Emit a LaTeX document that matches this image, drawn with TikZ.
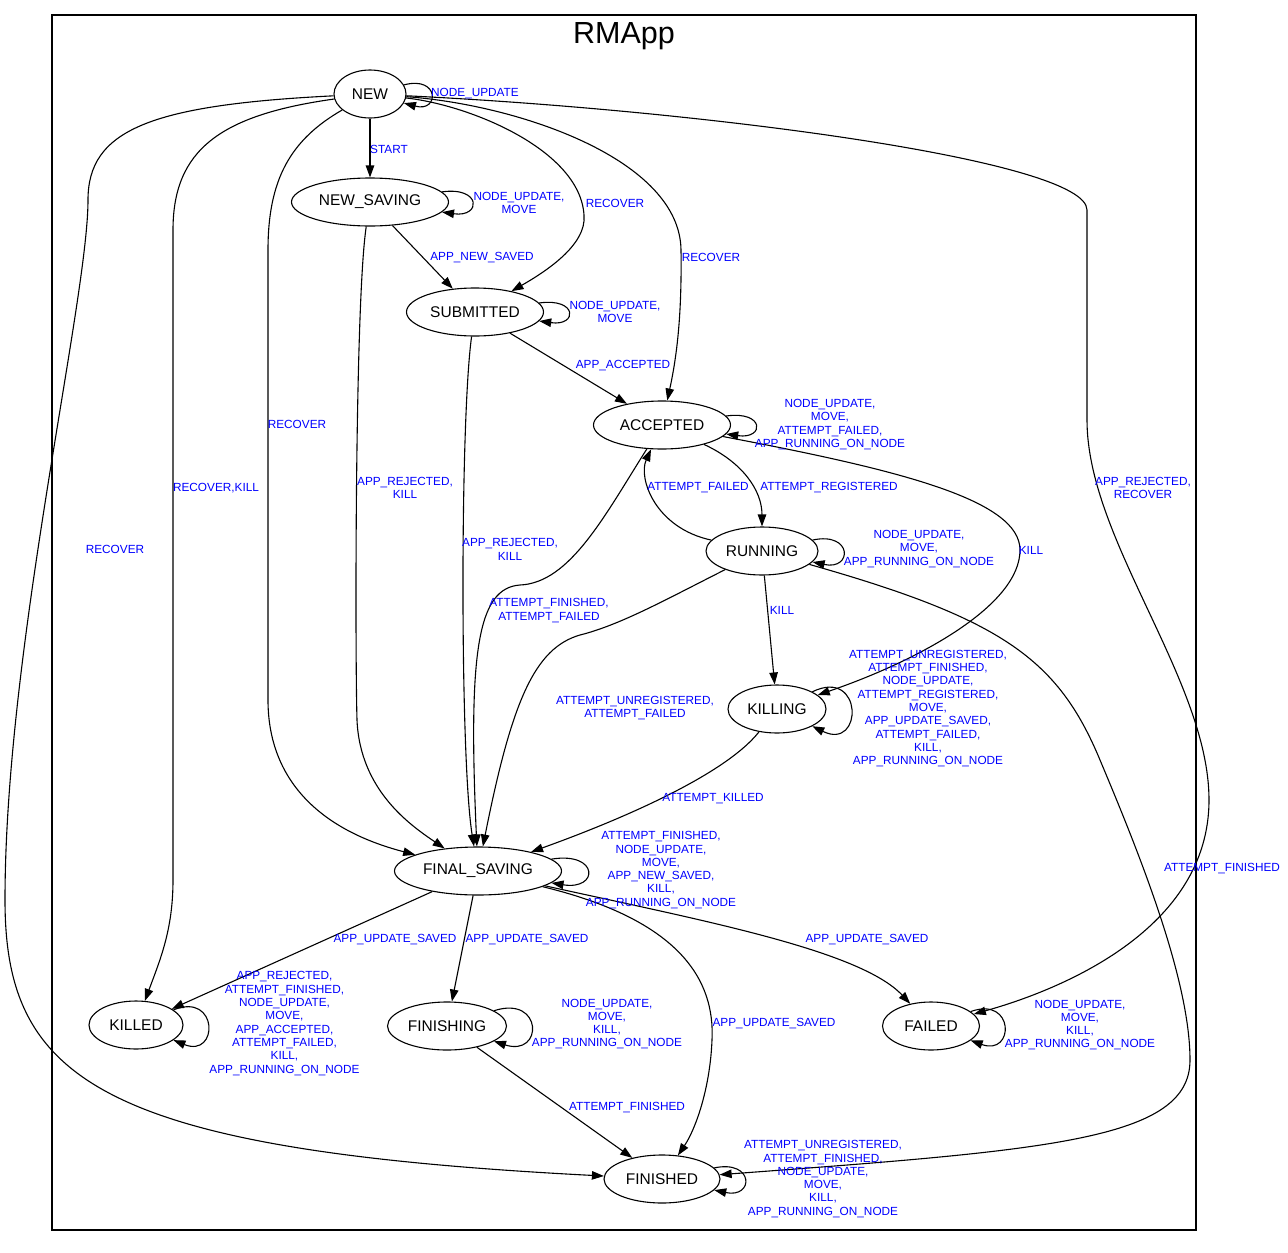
\documentclass[tikz,border=0pt]{standalone}
\usepackage{fontspec}
\setmainfont{Liberation Sans}
\usepackage{tikz}
\usetikzlibrary{arrows.meta,shapes.geometric}

\begin{document}
\begin{tikzpicture}[->,>={Triangle[length=12pt,width=8.5pt]},x=1pt,y=1pt,
	line width=1.1pt,
	main node/.style={ellipse,draw,minimum height=48pt,inner sep=0pt,
		font=\fontsize{15.5}{18}\selectfont},
	trans label/.style={text=blue,align=center,inner sep=0pt,
		font=\fontsize{11.8}{13.3}\selectfont},
	self loop/.style 2 args={out=#1,in=-#1,looseness=0.1,min distance=#2}]

	\useasboundingbox (0,0) rectangle (1288,-1253);
	\draw[-] (52,-15) rectangle (1196,-1230);
	\node (title) at (624,-36) {\fontsize{30.5}{34}\selectfont RMApp};

	\node[main node,minimum width=72pt] (0) at (370,-94) {NEW};
	\node[main node,minimum width=157pt] (1) at (370,-202) {NEW\_SAVING};
	\node[main node,minimum width=137pt] (2) at (475,-312) {SUBMITTED};
	\node[main node,minimum width=137pt] (3) at (662,-425) {ACCEPTED};
	\node[main node,minimum width=112pt] (4) at (762,-551) {RUNNING};
	\node[main node,minimum width=98pt] (5) at (777,-709) {KILLING};
	\node[main node,minimum width=167pt] (6) at (478,-871) {FINAL\_SAVING};
	\node[main node,minimum width=94pt] (7) at (136,-1025) {KILLED};
	\node[main node,minimum width=119pt] (8) at (447,-1026) {FINISHING};
	\node[main node,minimum width=97pt] (9) at (931,-1026) {FAILED};
	\node[main node,minimum width=116pt] (10) at (662,-1179) {FINISHED};

	\path
	(0) edge[self loop={15}{37pt}] (0)
	(0) edge (1)
	(1) edge[self loop={8}{40pt}] (1)
	(1) edge (2)
	(2) edge[self loop={8}{39pt}] (2)
	(2) edge (3)
	(3) edge[self loop={8}{39pt}] (3)
	(4) edge[self loop={12.5}{41pt}] (4)
	(4) edge (5)
	(5) edge[self loop={26}{57pt}] (5)
	(6) edge[self loop={9.5}{48pt}] (6)
	(6) edge (7)
	(6) edge (8)
	(7) edge[self loop={22}{49pt}] (7)
	(8) edge[self loop={18}{52pt}] (8)
	(8) edge (10)
	(9) edge[self loop={20}{47pt}] (9)
	(10) edge[self loop={12}{41pt}] (10);

	\draw (0) .. controls (470,-105) and (580,-150) .. (584,-215)
		.. controls (587,-245) and (545,-272) .. (2);
	\draw (0) .. controls (520,-105) and (680,-160) .. (681,-250)
		.. controls (682,-320) and (676,-360) .. (3);
	\draw (0) .. controls (700,-110) and (1087,-160) .. (1087,-210) -- (1087,-420)
		.. controls (1087,-540) and (1209,-680) .. (1209,-800)
		.. controls (1209,-930) and (1060,-990) .. (9);
	\draw (0) .. controls (220,-115) and (173,-150) .. (173,-230) -- (173,-880)
		.. controls (173,-930) and (160,-960) .. (7);
	\draw (0) .. controls (150,-105) and (88,-130) .. (88,-200)
		.. controls (88,-300) and (5,-650) .. (5,-900)
		.. controls (5,-1080) and (100,-1150) .. (10);
	\draw (0) .. controls (290,-140) and (268,-180) .. (268,-250) -- (268,-700)
		.. controls (268,-780) and (320,-830) .. (6);
	\draw (1) .. controls (355,-300) and (355,-650) .. (357,-720)
		.. controls (360,-790) and (410,-825) .. (6);
	\draw (2) .. controls (460,-420) and (460,-760) .. (6);
	\draw (3) .. controls (605,-515) and (570,-583) .. (520,-585)
		.. controls (478,-588) and (468,-650) .. (6);
	\draw (3) .. controls (742,-462) and (762,-490) .. (4);
	\draw (4) .. controls (655,-528) and (638,-478) .. (3);
	\draw (3) .. controls (900,-470) and (1020,-500) .. (1020,-550)
		.. controls (1020,-605) and (920,-660) .. (5);
	\draw (4) .. controls (665,-600) and (620,-625) .. (580,-635)
		.. controls (535,-648) and (512,-700) .. (6);
	\draw (5) .. controls (725,-775) and (620,-820) .. (6);
	\draw (4) .. controls (1002,-619) and (1058,-659) .. (1100,-760)
		.. controls (1140,-855) and (1190,-980) .. (1190,-1060)
		.. controls (1190,-1140) and (1050,-1150) .. (10);
	\draw (6) .. controls (680,-920) and (715,-980) .. (712,-1040)
		.. controls (710,-1090) and (695,-1130) .. (10);
	\draw (6) .. controls (700,-920) and (860,-950) .. (9);

	\node[trans label] (l1) at (475,-94) {NODE\_UPDATE};
	\node[trans label] (l2) at (389,-149) {START};
	\node[trans label] (l3) at (519,-203) {NODE\_UPDATE,\\MOVE};
	\node[trans label] (l4) at (482,-258) {APP\_NEW\_SAVED};
	\node[trans label] (l5) at (615,-203) {RECOVER};
	\node[trans label] (l6) at (615,-312) {NODE\_UPDATE,\\MOVE};
	\node[trans label] (l7) at (623,-366) {APP\_ACCEPTED};
	\node[trans label] (l8) at (711,-257) {RECOVER};
	\node[trans label] (l9) at (830,-424.5) {NODE\_UPDATE,\\MOVE,\\ATTEMPT\_FAILED,\\APP\_RUNNING\_ON\_NODE};
	\node[trans label] (l10) at (698,-488) {ATTEMPT\_FAILED};
	\node[trans label] (l11) at (829,-488) {ATTEMPT\_REGISTERED};
	\node[trans label] (l12) at (919,-549) {NODE\_UPDATE,\\MOVE,\\APP\_RUNNING\_ON\_NODE};
	\node[trans label] (l13) at (782,-610) {KILL};
	\node[trans label] (l14) at (1031,-550) {KILL};
	\node[trans label] (l15) at (928,-708.5) {ATTEMPT\_UNREGISTERED,\\ATTEMPT\_FINISHED,\\NODE\_UPDATE,\\ATTEMPT\_REGISTERED,\\MOVE,\\APP\_UPDATE\_SAVED,\\ATTEMPT\_FAILED,\\KILL,\\APP\_RUNNING\_ON\_NODE};
	\node[trans label] (l16) at (713,-799) {ATTEMPT\_KILLED};
	\node[trans label] (l17) at (635,-708) {ATTEMPT\_UNREGISTERED,\\ATTEMPT\_FAILED};
	\node[trans label] (l18) at (549,-610.5) {ATTEMPT\_FINISHED,\\ATTEMPT\_FAILED};
	\node[trans label] (l19) at (510,-549.5) {APP\_REJECTED,\\KILL};
	\node[trans label] (l20) at (405,-488) {APP\_REJECTED,\\KILL};
	\node[trans label] (l21) at (297,-424) {RECOVER};
	\node[trans label] (l22) at (216,-488) {RECOVER,KILL};
	\node[trans label] (l23) at (115,-549) {RECOVER};
	\node[trans label] (l24) at (1143,-488) {APP\_REJECTED,\\RECOVER};
	\node[trans label] (l25) at (661,-870) {ATTEMPT\_FINISHED,\\NODE\_UPDATE,\\MOVE,\\APP\_NEW\_SAVED,\\KILL,\\APP\_RUNNING\_ON\_NODE};
	\node[trans label] (l26) at (395,-940) {APP\_UPDATE\_SAVED};
	\node[trans label] (l27) at (527,-940) {APP\_UPDATE\_SAVED};
	\node[trans label] (l28) at (774,-1024) {APP\_UPDATE\_SAVED};
	\node[trans label] (l29) at (867,-940) {APP\_UPDATE\_SAVED};
	\node[trans label] (l30) at (284.5,-1023.5) {APP\_REJECTED,\\ATTEMPT\_FINISHED,\\NODE\_UPDATE,\\MOVE,\\APP\_ACCEPTED,\\ATTEMPT\_FAILED,\\KILL,\\APP\_RUNNING\_ON\_NODE};
	\node[trans label] (l31) at (607,-1024) {NODE\_UPDATE,\\MOVE,\\KILL,\\APP\_RUNNING\_ON\_NODE};
	\node[trans label] (l32) at (627,-1108) {ATTEMPT\_FINISHED};
	\node[trans label] (l33) at (1080,-1025) {NODE\_UPDATE,\\MOVE,\\KILL,\\APP\_RUNNING\_ON\_NODE};
	\node[trans label] (l34) at (823,-1179) {ATTEMPT\_UNREGISTERED,\\ATTEMPT\_FINISHED,\\NODE\_UPDATE,\\MOVE,\\KILL,\\APP\_RUNNING\_ON\_NODE};
	\node[trans label] (l35) at (1222,-869) {ATTEMPT\_FINISHED};
\end{tikzpicture}
\end{document}
